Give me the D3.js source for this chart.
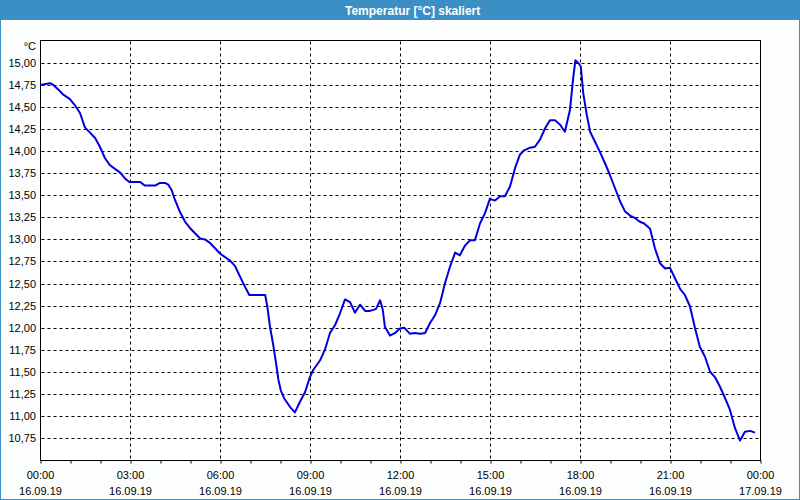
<!DOCTYPE html>
<html><head><meta charset="utf-8">
<script src="https://cdn.jsdelivr.net/npm/d3@7"></script>
<style>
html,body{margin:0;padding:0;background:#fff;}
svg{display:block;}
text{font-family:"Liberation Sans",Arial,sans-serif;}
</style></head>
<body><svg id="c" width="800" height="500"></svg>
<script>
const title = "Temperatur [°C] skaliert";
const unitLabel = "°C";
// time in hours since 16.09.19 00:00
const hours = [0,0.32,0.43,0.59,0.76,0.98,1.15,1.32,1.48,1.65,1.82,1.98,2.15,2.32,2.48,2.65,2.82,2.96,3.32,3.48,3.82,3.98,4.15,
4.26,4.37,4.48,4.65,4.82,4.98,5.15,5.32,5.48,5.65,5.82,5.98,6.15,6.32,6.48,6.65,6.82,6.96,7.49,7.56,7.65,7.76,7.85,7.93,8.01,8.12,
8.32,8.48,8.65,8.82,8.98,9.09,9.32,9.48,9.65,9.82,9.98,10.15,10.32,10.48,10.65,10.82,10.98,11.18,11.32,11.41,11.48,11.65,11.82,11.98,12.12,
12.32,12.48,12.65,12.82,12.98,13.15,13.32,13.48,13.65,13.82,13.98,14.15,14.32,14.48,14.65,14.82,14.98,15.15,15.32,15.48,15.65,15.82,15.98,16.12,
16.32,16.48,16.65,16.82,16.98,17.15,17.32,17.48,17.65,17.76,17.83,17.93,18.01,18.09,18.21,18.32,18.48,18.65,18.82,18.98,19.15,19.32,19.48,19.65,19.82,19.98,20.12,
20.32,20.48,20.65,20.82,20.98,21.15,21.32,21.48,21.65,21.82,21.98,22.15,22.32,22.48,22.65,22.82,22.98,23.15,23.32,23.48,23.65,23.82];
const temps = [14.75,14.77,14.75,14.70,14.64,14.59,14.52,14.43,14.27,14.21,14.15,14.05,13.92,13.84,13.80,13.76,13.69,13.65,13.65,13.61,13.61,13.64,13.64,
13.62,13.56,13.45,13.31,13.20,13.13,13.07,13.01,13.00,12.96,12.90,12.84,12.80,12.76,12.70,12.58,12.46,12.37,12.37,12.24,12.01,11.80,11.60,11.41,11.29,11.20,
11.10,11.04,11.16,11.27,11.44,11.52,11.63,11.75,11.94,12.03,12.16,12.32,12.29,12.17,12.26,12.19,12.19,12.21,12.31,12.20,12.01,11.91,11.94,11.99,12.00,
11.93,11.94,11.93,11.94,12.05,12.14,12.28,12.50,12.69,12.85,12.82,12.93,12.99,12.99,13.18,13.30,13.46,13.44,13.49,13.49,13.60,13.81,13.96,14.01,
14.04,14.05,14.13,14.26,14.35,14.35,14.30,14.22,14.47,14.84,15.03,15.00,14.96,14.66,14.41,14.22,14.11,13.99,13.86,13.73,13.58,13.43,13.32,13.27,13.24,13.20,13.18,
13.12,12.90,12.73,12.67,12.68,12.56,12.44,12.37,12.24,11.99,11.78,11.67,11.50,11.44,11.33,11.20,11.07,10.86,10.72,10.82,10.83,10.81];
const yTicks = [10.75,11.00,11.25,11.50,11.75,12.00,12.25,12.50,12.75,13.00,13.25,13.50,13.75,14.00,14.25,14.50,14.75,15.00];
const xTickHours = [0,3,6,9,12,15,18,21,24];
const xTimeLabels = ["00:00","03:00","06:00","09:00","12:00","15:00","18:00","21:00","00:00"];
const xDateLabels = ["16.09.19","16.09.19","16.09.19","16.09.19","16.09.19","16.09.19","16.09.19","16.09.19","17.09.19"];
const minorHours = d3.range(0,25,1);

const svg = d3.select("#c");
const W=800,H=500;
const L=40.5,R=760.5,T=40.5,B=460.5;

svg.append("rect").attr("x",0).attr("y",0).attr("width",W).attr("height",H).attr("fill","#3c8fc4");
svg.append("rect").attr("x",1).attr("y",20).attr("width",W-2).attr("height",H-21).attr("fill","#fcfdfd");
svg.append("text").attr("x",345).attr("y",14.5).attr("fill","#fff").attr("font-weight","bold")
  .attr("font-size","12px").text(title);

const x = d3.scaleLinear().domain([0,24]).range([L,R]);
const y = d3.scaleLinear().domain([10.5,15.26]).range([460,40]);

// plot bg
svg.append("rect").attr("x",L).attr("y",T).attr("width",R-L).attr("height",B-T).attr("fill","#fff");

// horizontal grid
svg.append("g").selectAll("line").data(yTicks).join("line")
  .attr("x1",L+1).attr("x2",R-1)
  .attr("y1",d=>Math.round(y(d))+0.5).attr("y2",d=>Math.round(y(d))+0.5)
  .attr("stroke","#000").attr("stroke-dasharray","3,3").attr("stroke-width",1);
// vertical grid
svg.append("g").selectAll("line").data(xTickHours.slice(1,-1)).join("line")
  .attr("x1",d=>x(d)).attr("x2",d=>x(d)).attr("y1",T+1).attr("y2",B-1)
  .attr("stroke","#000").attr("stroke-dasharray","3,3").attr("stroke-width",1);

// frame
svg.append("rect").attr("x",L).attr("y",T).attr("width",R-L).attr("height",B-T)
  .attr("fill","none").attr("stroke","#000").attr("stroke-width",1);

// x axis ticks and labels
const xAxis = d3.axisBottom(x).tickValues(minorHours).tickSize(3).tickFormat("");
const gx = svg.append("g").attr("transform",`translate(0,${B})`).call(xAxis);
gx.select(".domain").remove();
gx.selectAll("line").attr("stroke","#000");

const lab = svg.append("g").attr("font-size","11px").attr("fill","#000").attr("text-anchor","middle");
lab.selectAll("text.t").data(xTickHours).join("text").attr("class","t")
  .attr("x",d=>x(d)).attr("y",479).text((d,i)=>xTimeLabels[i]);
lab.selectAll("text.d").data(xTickHours).join("text").attr("class","d")
  .attr("x",d=>x(d)).attr("y",495).text((d,i)=>xDateLabels[i]);

// y labels
const fmt = d=>d.toFixed(2).replace(".",",");
const gy = svg.append("g").attr("font-size","11px").attr("fill","#000").attr("text-anchor","end");
gy.selectAll("text").data(yTicks).join("text")
  .attr("x",36).attr("y",d=>y(d)+4).text(fmt);
gy.append("text").attr("x",36).attr("y",50).text(unitLabel);

// line
const data = hours.map((h,i)=>({h,v:temps[i]}));
svg.append("path").datum(data)
  .attr("fill","none").attr("stroke","#0000dd").attr("stroke-width",2)
  .attr("stroke-linejoin","round")
  .attr("d",d3.line().x(d=>x(d.h)).y(d=>y(d.v)));
</script></body></html>
